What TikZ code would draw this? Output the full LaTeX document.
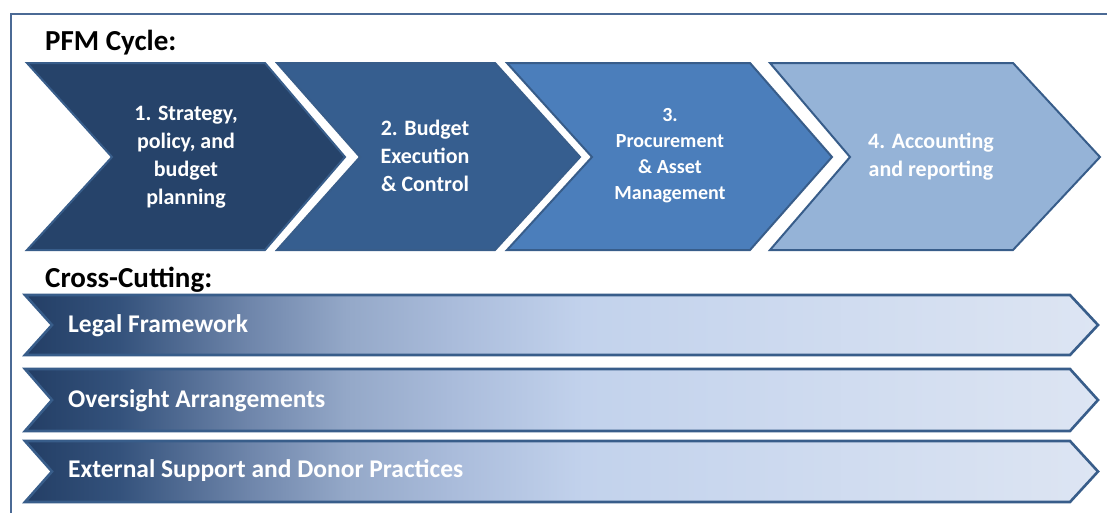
\documentclass[tikz,border=0pt]{standalone}
\usepackage{fontspec}
\setmainfont{Carlito}
\usetikzlibrary{calc}
\definecolor{chA}{HTML}{26436A}
\definecolor{chB}{HTML}{365E8F}
\definecolor{chC}{HTML}{4B7EBB}
\definecolor{chD}{HTML}{95B3D7}
\definecolor{edge}{HTML}{385D8A}
\definecolor{frameblue}{HTML}{4B6A95}
\definecolor{gA}{HTML}{233E65}
\definecolor{gB}{HTML}{34527C}
\definecolor{gC}{HTML}{6F86AB}
\definecolor{gD}{HTML}{94A8C8}
\definecolor{gE}{HTML}{AABCDB}
\definecolor{gF}{HTML}{C2D2EC}
\definecolor{gG}{HTML}{DDE5F3}
\pgfdeclarehorizontalshading{barshade}{100bp}{color(0bp)=(gA); color(25bp)=(gA); color(29.4bp)=(gB); color(35.5bp)=(gC); color(40bp)=(gD); color(45bp)=(gE); color(51bp)=(gF); color(75bp)=(gG); color(100bp)=(gG)}
\tikzset{
  chev/.style={draw=edge, line width=2pt, line join=miter},
  chevtext/.style={text=white, font=\bfseries\fontsize{22}{28}\selectfont, align=center, inner sep=0pt},
  chevsmall/.style={text=white, font=\bfseries\fontsize{20}{26}\selectfont, align=center, inner sep=0pt},
  heading/.style={text=black, font=\bfseries\fontsize{29}{32}\selectfont, anchor=base west, inner sep=0pt},
  bar/.style={draw=edge, line width=2.6pt, line join=miter, shading=barshade},
  bartext/.style={text=white, font=\bfseries\fontsize{25.5}{30}\selectfont, anchor=west, inner sep=0pt},
}
\begin{document}
\begin{tikzpicture}[x=1pt,y=-1pt]
\useasboundingbox (0,0) rectangle (1107,512);
\fill[white] (0,0) rectangle (1107,512);
% frame (extends past right and bottom)
\draw[frameblue, line width=2.5pt] (11,530) -- (11,14) -- (1130,14);

% headings
\node[heading] (pfm) at (45,50) {PFM Cycle:};
\node[heading] (cross) at (45,287) {Cross-Cutting:};

% chevrons
\draw[chev, fill=chA] (27,63) -- (265,63) -- (345,157) -- (265,250) -- (27,250) -- (112,157) -- cycle;
\draw[chev, fill=chB] (277,63) -- (495,63) -- (580,157) -- (495,250) -- (277,250) -- (360,157) -- cycle;
\draw[chev, fill=chC] (507,63) -- (750,63) -- (832,157) -- (750,250) -- (507,250) -- (592,157) -- cycle;
\draw[chev, fill=chD] (770,63) -- (1013,63) -- (1100,157) -- (1013,250) -- (770,250) -- (850,157) -- cycle;

\node[chevtext] (c1) at (186,157) {1. Strategy,\\policy, and\\budget\\planning};
\node[chevtext] (c2) at (425,156) {2. Budget\\Execution\\\& Control};
\node[chevsmall] (c3) at (670,156) {3.\\Procurement\\\& Asset\\Management};
\node[chevtext] (c4) at (931,157) {4. Accounting\\and reporting};

% cross-cutting bars
\path[bar] (25,295) -- (1070,295) -- (1098,325) -- (1070,355) -- (25,355) -- (52,325) -- cycle;
\path[bar] (25,369) -- (1070,369) -- (1098,400) -- (1070,431) -- (25,431) -- (52,400) -- cycle;
\path[bar] (25,441) -- (1070,441) -- (1098,471.5) -- (1070,502) -- (25,502) -- (52,471.5) -- cycle;

\node[bartext] (b1) at (68,326) {Legal Framework};
\node[bartext] (b2) at (68,401) {Oversight Arrangements};
\node[bartext] (b3) at (68,471) {External Support and Donor Practices};
\end{tikzpicture}
\end{document}
